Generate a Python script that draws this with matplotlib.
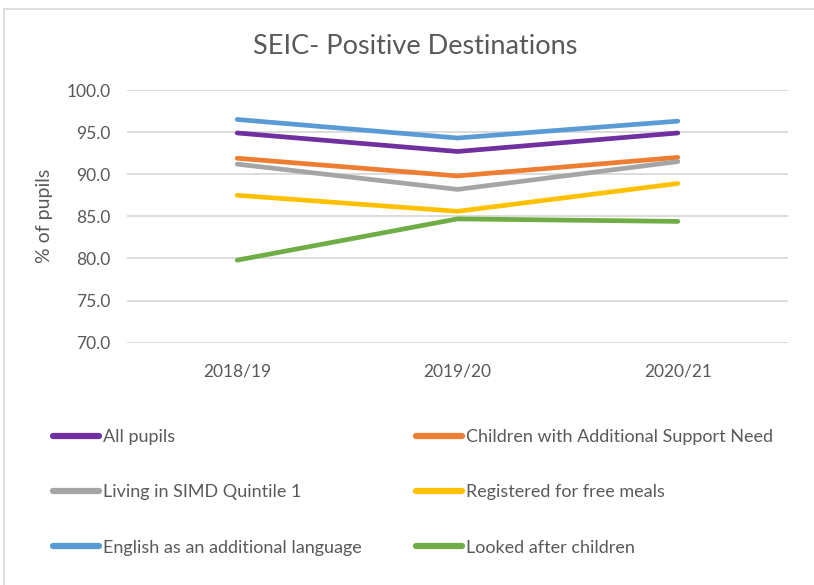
import matplotlib
matplotlib.use("Agg")
import matplotlib.pyplot as plt
from matplotlib.patches import Rectangle

years = ["2018/19", "2019/20", "2020/21"]
all_pupils = [94.9, 92.7, 94.9]
asn = [91.9, 89.8, 92.0]
simd_q1 = [91.2, 88.2, 91.5]
free_meals = [87.5, 85.6, 88.9]
eal = [96.5, 94.3, 96.3]
looked_after = [79.8, 84.7, 84.4]

series_names = ["All pupils", "Children with Additional Support Need",
                "Living in SIMD Quintile 1", "Registered for free meals",
                "English as an additional language", "Looked after children"]
series_values = [all_pupils, asn, simd_q1, free_meals, eal, looked_after]
colors = ["#7030A0", "#ED7D31", "#A5A5A5", "#FFC000", "#5B9BD5", "#70AD47"]
yticks = [70.0, 75.0, 80.0, 85.0, 90.0, 95.0, 100.0]

plt.rcParams['font.family'] = ['Lato', 'DejaVu Sans']
txt = "#595959"

fig = plt.figure(figsize=(8.14, 5.85), dpi=100)
fig.patches.append(Rectangle((4/814, -0.1), 1.2, 1 - 9/585 + 0.1, transform=fig.transFigure,
                             fill=False, edgecolor="#D9D9D9", linewidth=1.2))
ax = fig.add_axes([127/814, 1 - 342.7/585, (788-127)/814, (342.7-90)/585])

x = list(range(len(years)))
handles = []
for name, vals, c in zip(series_names, series_values, colors):
    h, = ax.plot(x, vals, color=c, linewidth=3.4, solid_capstyle='round', label=name, zorder=3)
    handles.append(h)

ax.set_xlim(-0.5, 2.5)
ax.set_ylim(70, 100)
ax.set_yticks(yticks)
ax.set_yticklabels([f"{v:.1f}" for v in yticks])
ax.set_xticks(x)
ax.set_xticklabels(years)
ax.grid(axis='y', color="#D9D9D9", linewidth=1.3)
ax.set_axisbelow(True)
for s in ax.spines.values():
    s.set_visible(False)
ax.tick_params(axis='both', length=0, colors=txt, labelsize=12.5)
ax.tick_params(axis='y', pad=12)
ax.tick_params(axis='x', pad=15)
ax.set_ylabel("% of pupils", color=txt, fontsize=14)
ax.yaxis.set_label_coords(-0.112, 0.5)

fig.text(415/814, 1 - 47/585, "SEIC- Positive Destinations", ha='center', va='center',
         fontsize=19.5, color=txt)

def make_leg(idx, x0):
    lg = fig.legend([handles[i] for i in idx], [series_names[i] for i in idx],
                    ncol=1, loc='upper left', bbox_to_anchor=(x0/814, 1 - 429/585),
                    frameon=False, fontsize=13, labelcolor=txt,
                    handlelength=2.55, handletextpad=0.2,
                    labelspacing=2.18, borderaxespad=0, borderpad=0)
    for l in lg.get_lines():
        l.set_linewidth(4.5)
    return lg

leg1 = make_leg([0, 2, 4], 53)
leg2 = make_leg([1, 3, 5], 416)

fig.savefig("out.png", dpi=100)
